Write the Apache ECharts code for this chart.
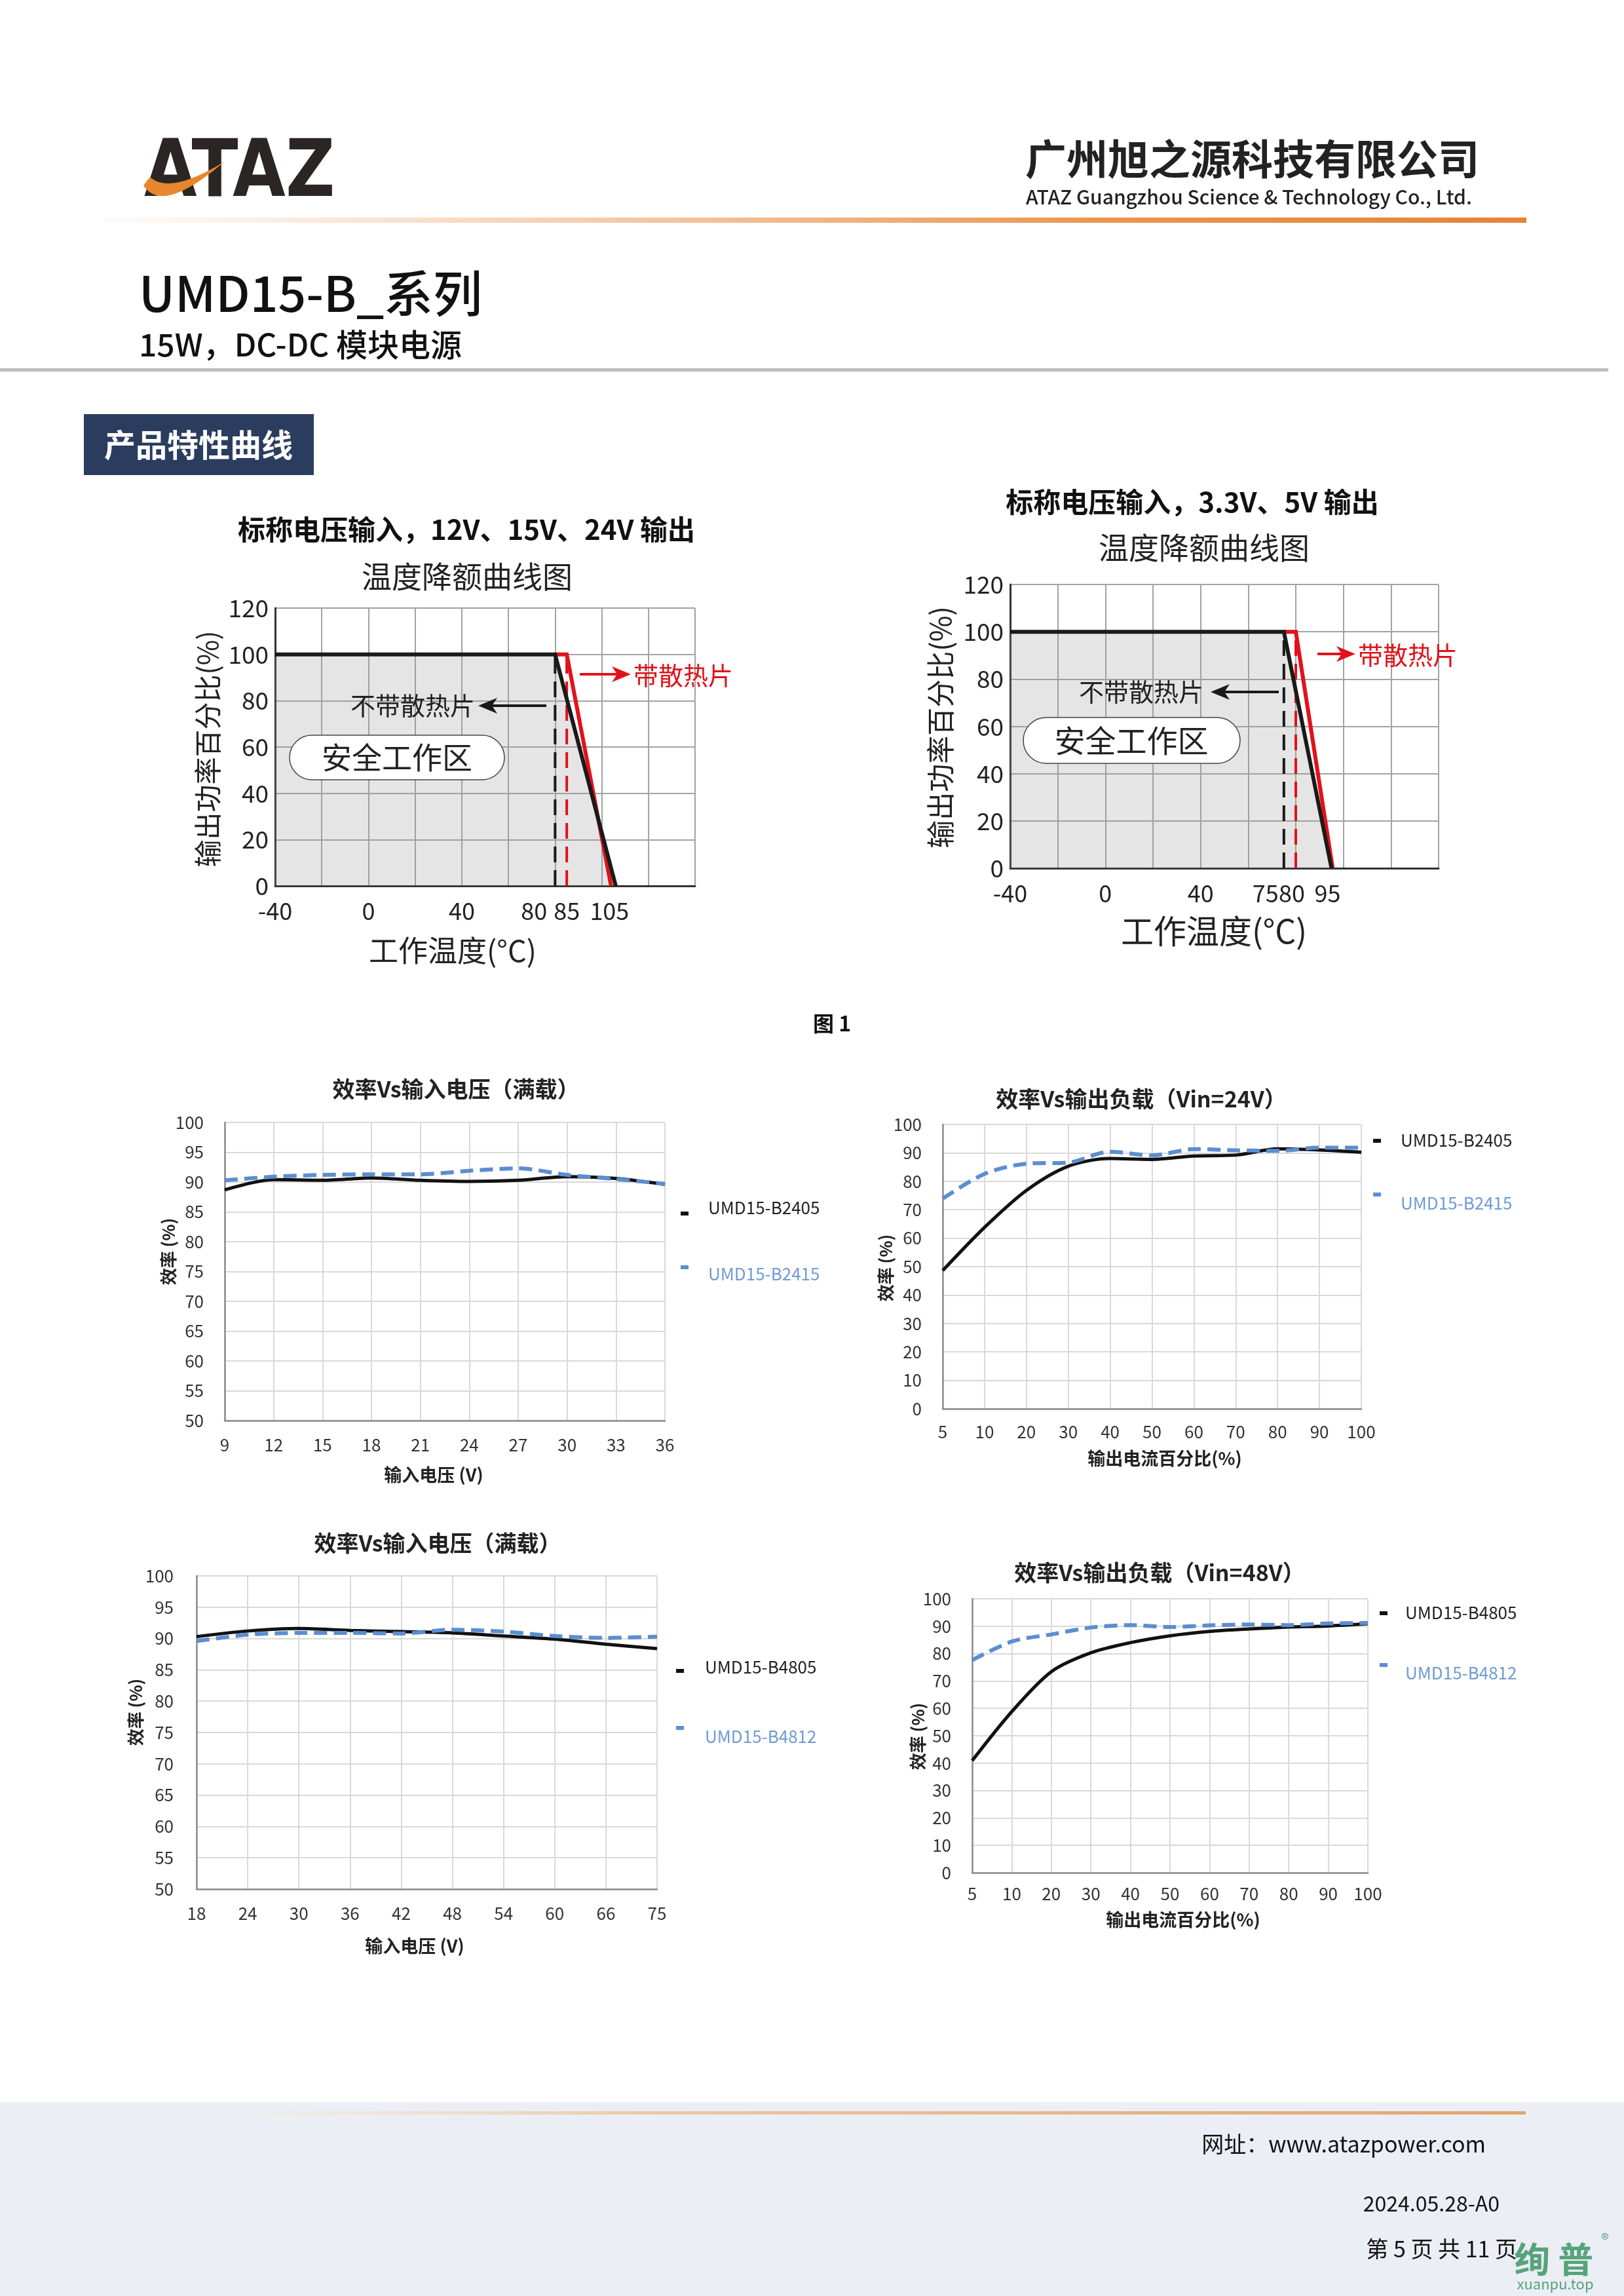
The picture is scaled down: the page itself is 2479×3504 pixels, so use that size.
<!DOCTYPE html>
<html><head><meta charset="utf-8">
<script src="https://cdn.jsdelivr.net/npm/echarts@6/dist/echarts.min.js"></script>
<style>html,body{margin:0;padding:0;background:#fff}#c{width:2479px;height:3504px}</style>
</head><body><div id="c"></div>
<script>
const F = "'Noto Sans CJK SC','Noto Sans',sans-serif";

// ---------------- data ----------------
// temperature derating (x: ambient °C, y: output power %)
const derateTicksL = [-40, 0, 40, 80, 85, 105];
const derateTicksR = [-40, 0, 40, 75, 80, 95];
const noSinkL = [[-40, 100], [80, 100], [106, 0]];
const sinkL = [[80, 100], [85, 100], [104, 0]];
const noSinkR = [[-40, 100], [75, 100], [95, 0]];
const sinkR = [[75, 100], [80, 100], [95.5, 0]];
const limitsL = [80, 85];   // derating start: without heatsink, with heatsink
const limitsR = [75, 80];

// efficiency vs input voltage (24V input models)
const vinA = ['9', '12', '15', '18', '21', '24', '27', '30', '33', '36'];
const effA_2405 = [88.7, 90.4, 90.3, 90.7, 90.3, 90.1, 90.3, 90.9, 90.6, 89.6];
const effA_2415 = [90.3, 90.9, 91.2, 91.3, 91.3, 91.9, 92.3, 91.2, 90.5, 89.7];
// efficiency vs output load, Vin=24V
const loadPct = ['5', '10', '20', '30', '40', '50', '60', '70', '80', '90', '100'];
const effB_2405 = [48.6, 63.8, 76.8, 85.3, 88.0, 87.7, 88.9, 89.2, 91.4, 91.0, 90.2];
const effB_2415 = [73.9, 82.6, 86.2, 86.6, 90.4, 89.1, 91.3, 90.9, 90.7, 91.8, 91.8];
// efficiency vs input voltage (48V input models)
const vinC = ['18', '24', '30', '36', '42', '48', '54', '60', '66', '75'];
const effC_4805 = [90.3, 91.2, 91.6, 91.3, 91.1, 90.9, 90.4, 89.9, 89.1, 88.4];
const effC_4812 = [89.6, 90.6, 90.9, 90.9, 90.8, 91.4, 91.1, 90.4, 90.1, 90.3];
// efficiency vs output load, Vin=48V
const effD_4805 = [40.9, 58.8, 73.4, 80.3, 84.0, 86.5, 88.1, 89.0, 89.7, 90.1, 90.9];
const effD_4812 = [77.6, 84.4, 87.0, 89.5, 90.4, 89.7, 90.3, 90.6, 90.4, 91.0, 91.2];

// ---------------- styles ----------------
const RED = '#E1121B', BLK = '#1a1a1a', BLUE = '#5B8ED0', BLUE_T = '#6F9BD3';
function lin(stops) { return {type: 'linear', x: 0, y: 0, x2: 1, y2: 0, colorStops: stops}; }

const chart = echarts.init(document.getElementById('c'), null, {width: 2479, height: 3504});

const grids = [
  {left: 420, top: 928, width: 641, height: 424},
  {left: 1542, top: 892, width: 654, height: 433},
  {left: 343, top: 1713, width: 672, height: 455},
  {left: 1439, top: 1716, width: 639, height: 434},
  {left: 300, top: 2405, width: 703, height: 478},
  {left: 1484, top: 2440, width: 604, height: 418}
];

const DFS = 36;
const richBase = {fontSize: DFS, color: '#222', fontFamily: F};
function derateX(gi, ticks, shifts) {
  const rich = {n: Object.assign({}, richBase)};
  const keys = Object.keys(shifts);
  keys.forEach((k, i) => {
    const s = shifts[k];
    rich['s' + i] = Object.assign({}, richBase, {padding: s < 0 ? [0, -2 * s, 0, 0] : [0, 0, 0, 2 * s]});
  });
  return {
    gridIndex: gi, type: 'value', min: -40, max: 140, interval: 20,
    axisLine: {show: true, onZero: false, lineStyle: {color: '#333', width: 3}},
    axisTick: {show: false},
    splitLine: {show: true, lineStyle: {color: '#a3a3a3', width: 2}},
    axisLabel: {
      customValues: ticks, margin: 20, fontSize: DFS, color: '#222', fontFamily: F,
      formatter: v => {
        const idx = keys.indexOf(String(v));
        return idx >= 0 ? '{s' + idx + '|' + v + '}' : '{n|' + v + '}';
      },
      rich: rich
    }
  };
}
function derateY(gi) {
  return {
    gridIndex: gi, type: 'value', min: 0, max: 120, interval: 20,
    axisLine: {show: true, onZero: false, lineStyle: {color: '#333', width: 3}},
    axisTick: {show: false},
    splitLine: {show: true, lineStyle: {color: '#a3a3a3', width: 2}},
    axisLabel: {margin: 10, fontSize: DFS + 1, color: '#222', fontFamily: F}
  };
}
function effX(gi, cats, margin) {
  return {
    gridIndex: gi, type: 'category', data: cats, boundaryGap: false,
    axisLine: {show: true, onZero: false, lineStyle: {color: '#8c8c8c', width: 2.5}},
    axisTick: {show: false},
    splitLine: {show: true, lineStyle: {color: '#d9d9d9', width: 2}},
    axisLabel: {interval: 0, margin: margin, fontSize: 26, color: '#333', fontFamily: F}
  };
}
function effY(gi, min, interval, margin) {
  return {
    gridIndex: gi, type: 'value', min: min, max: 100, interval: interval,
    axisLine: {show: true, onZero: false, lineStyle: {color: '#8c8c8c', width: 2.5}},
    axisTick: {show: false},
    splitLine: {show: true, lineStyle: {color: '#d9d9d9', width: 2}},
    axisLabel: {margin: margin, fontSize: 26, color: '#333', fontFamily: F}
  };
}

const xAxes = [
  derateX(0, derateTicksL, {80: -32, 105: -6}),
  derateX(1, derateTicksR, {75: -28, 80: -6, 95: -6}),
  effX(2, vinA, 24), effX(3, loadPct, 22), effX(4, vinC, 24), effX(5, loadPct, 19)
];
const yAxes = [
  derateY(0), derateY(1),
  effY(2, 50, 5, 32), effY(3, 0, 10, 32), effY(4, 50, 5, 35), effY(5, 0, 10, 32)
];

const series = [];
function derateSeries(gi, noSink, sink, limits) {
  series.push({type: 'line', xAxisIndex: gi, yAxisIndex: gi, data: noSink, symbol: 'none', silent: true,
    lineStyle: {width: 0}, areaStyle: {color: 'rgba(150,150,150,0.36)'}, z: 1});
  series.push({type: 'line', xAxisIndex: gi, yAxisIndex: gi, data: [[limits[0], 0], [limits[0], 100]],
    symbol: 'none', silent: true, lineStyle: {color: BLK, width: 4, type: [24, 12]}, z: 2});
  series.push({type: 'line', xAxisIndex: gi, yAxisIndex: gi, data: [[limits[1], 0], [limits[1], 100]],
    symbol: 'none', silent: true, lineStyle: {color: RED, width: 4, type: [24, 12]}, z: 2});
  series.push({type: 'line', xAxisIndex: gi, yAxisIndex: gi, data: sink, symbol: 'none', silent: true,
    lineStyle: {color: RED, width: 6, join: 'miter'}, z: 3});
  series.push({type: 'line', xAxisIndex: gi, yAxisIndex: gi, data: noSink, symbol: 'none', silent: true,
    lineStyle: {color: BLK, width: 6, join: 'miter'}, z: 4});
}
derateSeries(0, noSinkL, sinkL, limitsL);
derateSeries(1, noSinkR, sinkR, limitsR);

function effPair(gi, nameK, dataK, nameB, dataB) {
  series.push({type: 'line', name: nameK, xAxisIndex: gi, yAxisIndex: gi, data: dataK, symbol: 'none',
    smooth: 0.3, lineStyle: {color: '#111', width: 5}, itemStyle: {color: '#111'}, z: 3});
  series.push({type: 'line', name: nameB, xAxisIndex: gi, yAxisIndex: gi, data: dataB, symbol: 'none',
    smooth: 0.3, lineStyle: {color: BLUE, width: 6, type: [20, 10]}, itemStyle: {color: BLUE}, z: 4});
}
effPair(2, 'UMD15-B2405', effA_2405, 'UMD15-B2415', effA_2415);
effPair(3, 'UMD15-B2405', effB_2405, 'UMD15-B2415', effB_2415);
effPair(4, 'UMD15-B4805', effC_4805, 'UMD15-B4812', effC_4812);
effPair(5, 'UMD15-B4805', effD_4805, 'UMD15-B4812', effD_4812);

// legends: one per item so that each marker can sit where the reference shows it
function mkLegend(name, iconLeft, iconCY, textLeft, textCY, color) {
  const d = textCY - iconCY;            // >0: text sits lower than its marker
  const sp = Math.max(2, Math.abs(2 * d));
  const fmt = d > 0 ? (n => '{g| }\n{t|' + n + '}') : (n => '{t|' + n + '}\n{g| }');
  const boxH = 30 + sp;
  return {
    show: true, data: [name], icon: 'rect', itemWidth: 12, itemHeight: 6, padding: 0,
    selectedMode: false, left: iconLeft, top: iconCY - Math.max(3, boxH / 2),
    itemStyle: {borderWidth: 0},
    formatter: fmt,
    textStyle: {padding: [0, 0, 0, textLeft - iconLeft - 17],
      rich: {t: {fontSize: 26, color: color, fontFamily: F, lineHeight: 30},
             g: {fontSize: 2, lineHeight: sp, height: sp}}}
  };
}
const legends = [
  mkLegend('UMD15-B2405', 1039, 1854, 1081, 1845, '#222'),
  mkLegend('UMD15-B2415', 1039, 1934, 1081, 1944, BLUE_T),
  mkLegend('UMD15-B2405', 2096, 1743, 2138, 1742, '#222'),
  mkLegend('UMD15-B2415', 2096, 1823, 2138, 1836, BLUE_T),
  mkLegend('UMD15-B4805', 1032, 2552, 1076, 2546, '#222'),
  mkLegend('UMD15-B4812', 1032, 2637, 1076, 2650, BLUE_T),
  mkLegend('UMD15-B4805', 2106, 2464, 2145, 2463, '#222'),
  mkLegend('UMD15-B4812', 2106, 2541, 2145, 2553, BLUE_T)
];

// ---------------- page graphics ----------------
function T(x, y, s, size, o) {
  return {type: 'text', x: x, y: y, z: 10, silent: true, rotation: (o && o.rot) || 0,
    style: Object.assign({text: s, fontSize: size, fontFamily: F, fill: '#111', align: 'center', verticalAlign: 'middle'}, o && o.st)};
}
function arrow(x1, y, tip, color) {
  const dir = tip > x1 ? 1 : -1;
  const back = tip - dir * 29, notch = tip - dir * 21;
  return [
    {type: 'line', z: 10, silent: true, shape: {x1: x1, y1: y, x2: notch, y2: y}, style: {stroke: color, lineWidth: 4}},
    {type: 'polygon', z: 10, silent: true, shape: {points: [[tip, y], [back, y - 12], [notch, y], [back, y + 12]]}, style: {fill: color}}
  ];
}
function quad(p0, c, p1, n) {
  const pts = [];
  for (let i = 0; i <= n; i++) {
    const t = i / n, a = (1 - t) * (1 - t), b = 2 * t * (1 - t), d = t * t;
    pts.push([a * p0[0] + b * c[0] + d * p1[0], a * p0[1] + b * c[1] + d * p1[1]]);
  }
  return pts;
}
const g = [];
// header
g.push({type: 'text', x: 220, y: 268, z: 10, scaleX: 0.86, scaleY: 1.0, style: {text: 'ATAZ', fontSize: 121, fontFamily: "'DejaVu Sans',sans-serif",
  fontWeight: 'bold', fill: '#2b2624', align: 'left', verticalAlign: 'middle'}});
const swoosh = quad([219, 283], [248, 328], [342, 247], 28).concat(quad([342, 247], [258, 298], [229, 270], 28));
g.push({type: 'polygon', z: 11, silent: true, shape: {points: swoosh}, style: {fill: '#E8862E'}});
g.push(T(1565, 242, '广州旭之源科技有限公司', 63, {st: {align: 'left', fontWeight: 'bold', fill: '#222'}}));
g.push(T(1566, 301, 'ATAZ Guangzhou Science & Technology Co., Ltd.', 30, {st: {align: 'left', fontWeight: 500, fill: '#222'}}));
g.push({type: 'rect', z: 5, shape: {x: 158, y: 332, width: 2172, height: 8}, style: {fill: lin([
  {offset: 0, color: 'rgba(240,180,140,0.05)'}, {offset: 0.35, color: 'rgba(236,160,100,0.55)'}, {offset: 0.7, color: '#E9954E'}, {offset: 1, color: '#E4843A'}])}});
g.push(T(212, 447, 'UMD15-B_系列', 75, {st: {align: 'left', fontWeight: 500}}));
g.push(T(212, 526, '15W，DC-DC 模块电源', 48, {st: {align: 'left', fontWeight: 500}}));
g.push({type: 'rect', z: 5, shape: {x: 0, y: 562, width: 2455, height: 5}, style: {fill: '#bdbdbd'}});
g.push({type: 'rect', z: 5, shape: {x: 128, y: 632, width: 351, height: 93}, style: {fill: '#2B3D5E'}});
g.push(T(303, 679, '产品特性曲线', 48, {st: {fill: '#fff', fontWeight: 'bold'}}));

// derating chart texts
g.push(T(712, 808, '标称电压输入，12V、15V、24V 输出', 42, {st: {fontWeight: 'bold'}}));
g.push(T(713, 880, '温度降额曲线图', 46, {st: {fill: '#222'}}));
g.push(T(317, 1143, '输出功率百分比(%)', 42, {rot: Math.PI / 2, st: {fill: '#222'}}));
g.push(T(691, 1451, '工作温度(°C)', 45, {st: {fill: '#222'}}));
g.push({type: 'rect', z: 9, shape: {x: 442, y: 1122, width: 328, height: 68, r: 34}, style: {fill: '#fff', stroke: '#444', lineWidth: 1.5}});
g.push(T(606, 1156, '安全工作区', 46, {st: {fill: '#222'}}));
g.push(T(630, 1077, '不带散热片', 38, {st: {fill: '#222'}}));
arrow(834, 1077, 730, BLK).forEach(e => g.push(e));
arrow(885, 1029, 963, RED).forEach(e => g.push(e));
g.push(T(1043, 1031, '带散热片', 38, {st: {fill: RED}}));

g.push(T(1820, 766, '标称电压输入，3.3V、5V 输出', 42, {st: {fontWeight: 'bold'}}));
g.push(T(1838, 836, '温度降额曲线图', 46, {st: {fill: '#222'}}));
g.push(T(1436, 1110, '输出功率百分比(%)', 43, {rot: Math.PI / 2, st: {fill: '#222'}}));
g.push(T(1853, 1421, '工作温度(°C)', 50, {st: {fill: '#222'}}));
g.push({type: 'rect', z: 9, shape: {x: 1562, y: 1095, width: 331, height: 70, r: 35}, style: {fill: '#fff', stroke: '#444', lineWidth: 1.5}});
g.push(T(1727, 1130, '安全工作区', 47, {st: {fill: '#222'}}));
g.push(T(1742, 1056, '不带散热片', 38, {st: {fill: '#222'}}));
arrow(1952, 1056, 1848, BLK).forEach(e => g.push(e));
arrow(2011, 998, 2069, RED).forEach(e => g.push(e));
g.push(T(2149, 1000, '带散热片', 38, {st: {fill: RED}}));

g.push(T(1270, 1562, '图 1', 32, {st: {fontWeight: 'bold'}}));

// efficiency chart texts
g.push(T(696, 1662, '效率Vs输入电压（满载）', 34, {st: {fontWeight: 'bold', fill: '#222'}}));
g.push(T(662, 2251, '输入电压 (V)', 27, {st: {fontWeight: 'bold', fill: '#222'}}));
g.push(T(257, 1910, '效率 (%)', 26, {rot: Math.PI / 2, st: {fontWeight: 'bold', fill: '#222'}}));

g.push(T(1742, 1677, '效率Vs输出负载（Vin=24V）', 34, {st: {fontWeight: 'bold', fill: '#222'}}));
g.push(T(1778, 2226, '输出电流百分比(%)', 27, {st: {fontWeight: 'bold', fill: '#222'}}));
g.push(T(1352, 1935, '效率 (%)', 26, {rot: Math.PI / 2, st: {fontWeight: 'bold', fill: '#222'}}));

g.push(T(668, 2355, '效率Vs输入电压（满载）', 34, {st: {fontWeight: 'bold', fill: '#222'}}));
g.push(T(633, 2970, '输入电压 (V)', 27, {st: {fontWeight: 'bold', fill: '#222'}}));
g.push(T(207, 2613, '效率 (%)', 26, {rot: Math.PI / 2, st: {fontWeight: 'bold', fill: '#222'}}));

g.push(T(1770, 2400, '效率Vs输出负载（Vin=48V）', 34, {st: {fontWeight: 'bold', fill: '#222'}}));
g.push(T(1806, 2930, '输出电流百分比(%)', 27, {st: {fontWeight: 'bold', fill: '#222'}}));
g.push(T(1401, 2650, '效率 (%)', 26, {rot: Math.PI / 2, st: {fontWeight: 'bold', fill: '#222'}}));

// footer
g.push({type: 'rect', z: 0, shape: {x: 0, y: 3208, width: 2479, height: 296}, style: {fill: '#EBEEF4'}});
g.push({type: 'rect', z: 1, shape: {x: 395, y: 3222, width: 1934, height: 5}, style: {fill: lin([
  {offset: 0, color: 'rgba(245,235,225,0.6)'}, {offset: 0.3, color: '#EBC9A6'}, {offset: 0.6, color: '#E6B88C'}, {offset: 1, color: '#E3A46C'}])}});
g.push(T(2268, 3272, '网址：www.atazpower.com', 34, {st: {align: 'right', fill: '#111'}}));
g.push(T(2289, 3363, '2024.05.28-A0', 32, {st: {align: 'right', fill: '#111'}}));
g.push(T(2316, 3432, '第 5 页 共 11 页', 34, {st: {align: 'right', fill: '#111'}}));
g.push(T(2372, 3448, '绚 普', 54, {st: {fill: 'rgba(60,150,100,0.85)', fontWeight: 'bold'}}));
g.push(T(2450, 3418, '®', 24, {st: {fill: 'rgba(60,150,100,0.85)'}}));
g.push(T(2374, 3486, 'xuanpu.top', 22, {st: {fill: 'rgba(60,150,100,0.85)'}}));

chart.setOption({
  animation: false,
  backgroundColor: '#ffffff',
  grid: grids,
  xAxis: xAxes,
  yAxis: yAxes,
  legend: legends,
  series: series,
  graphic: {elements: g}
});
</script></body></html>
